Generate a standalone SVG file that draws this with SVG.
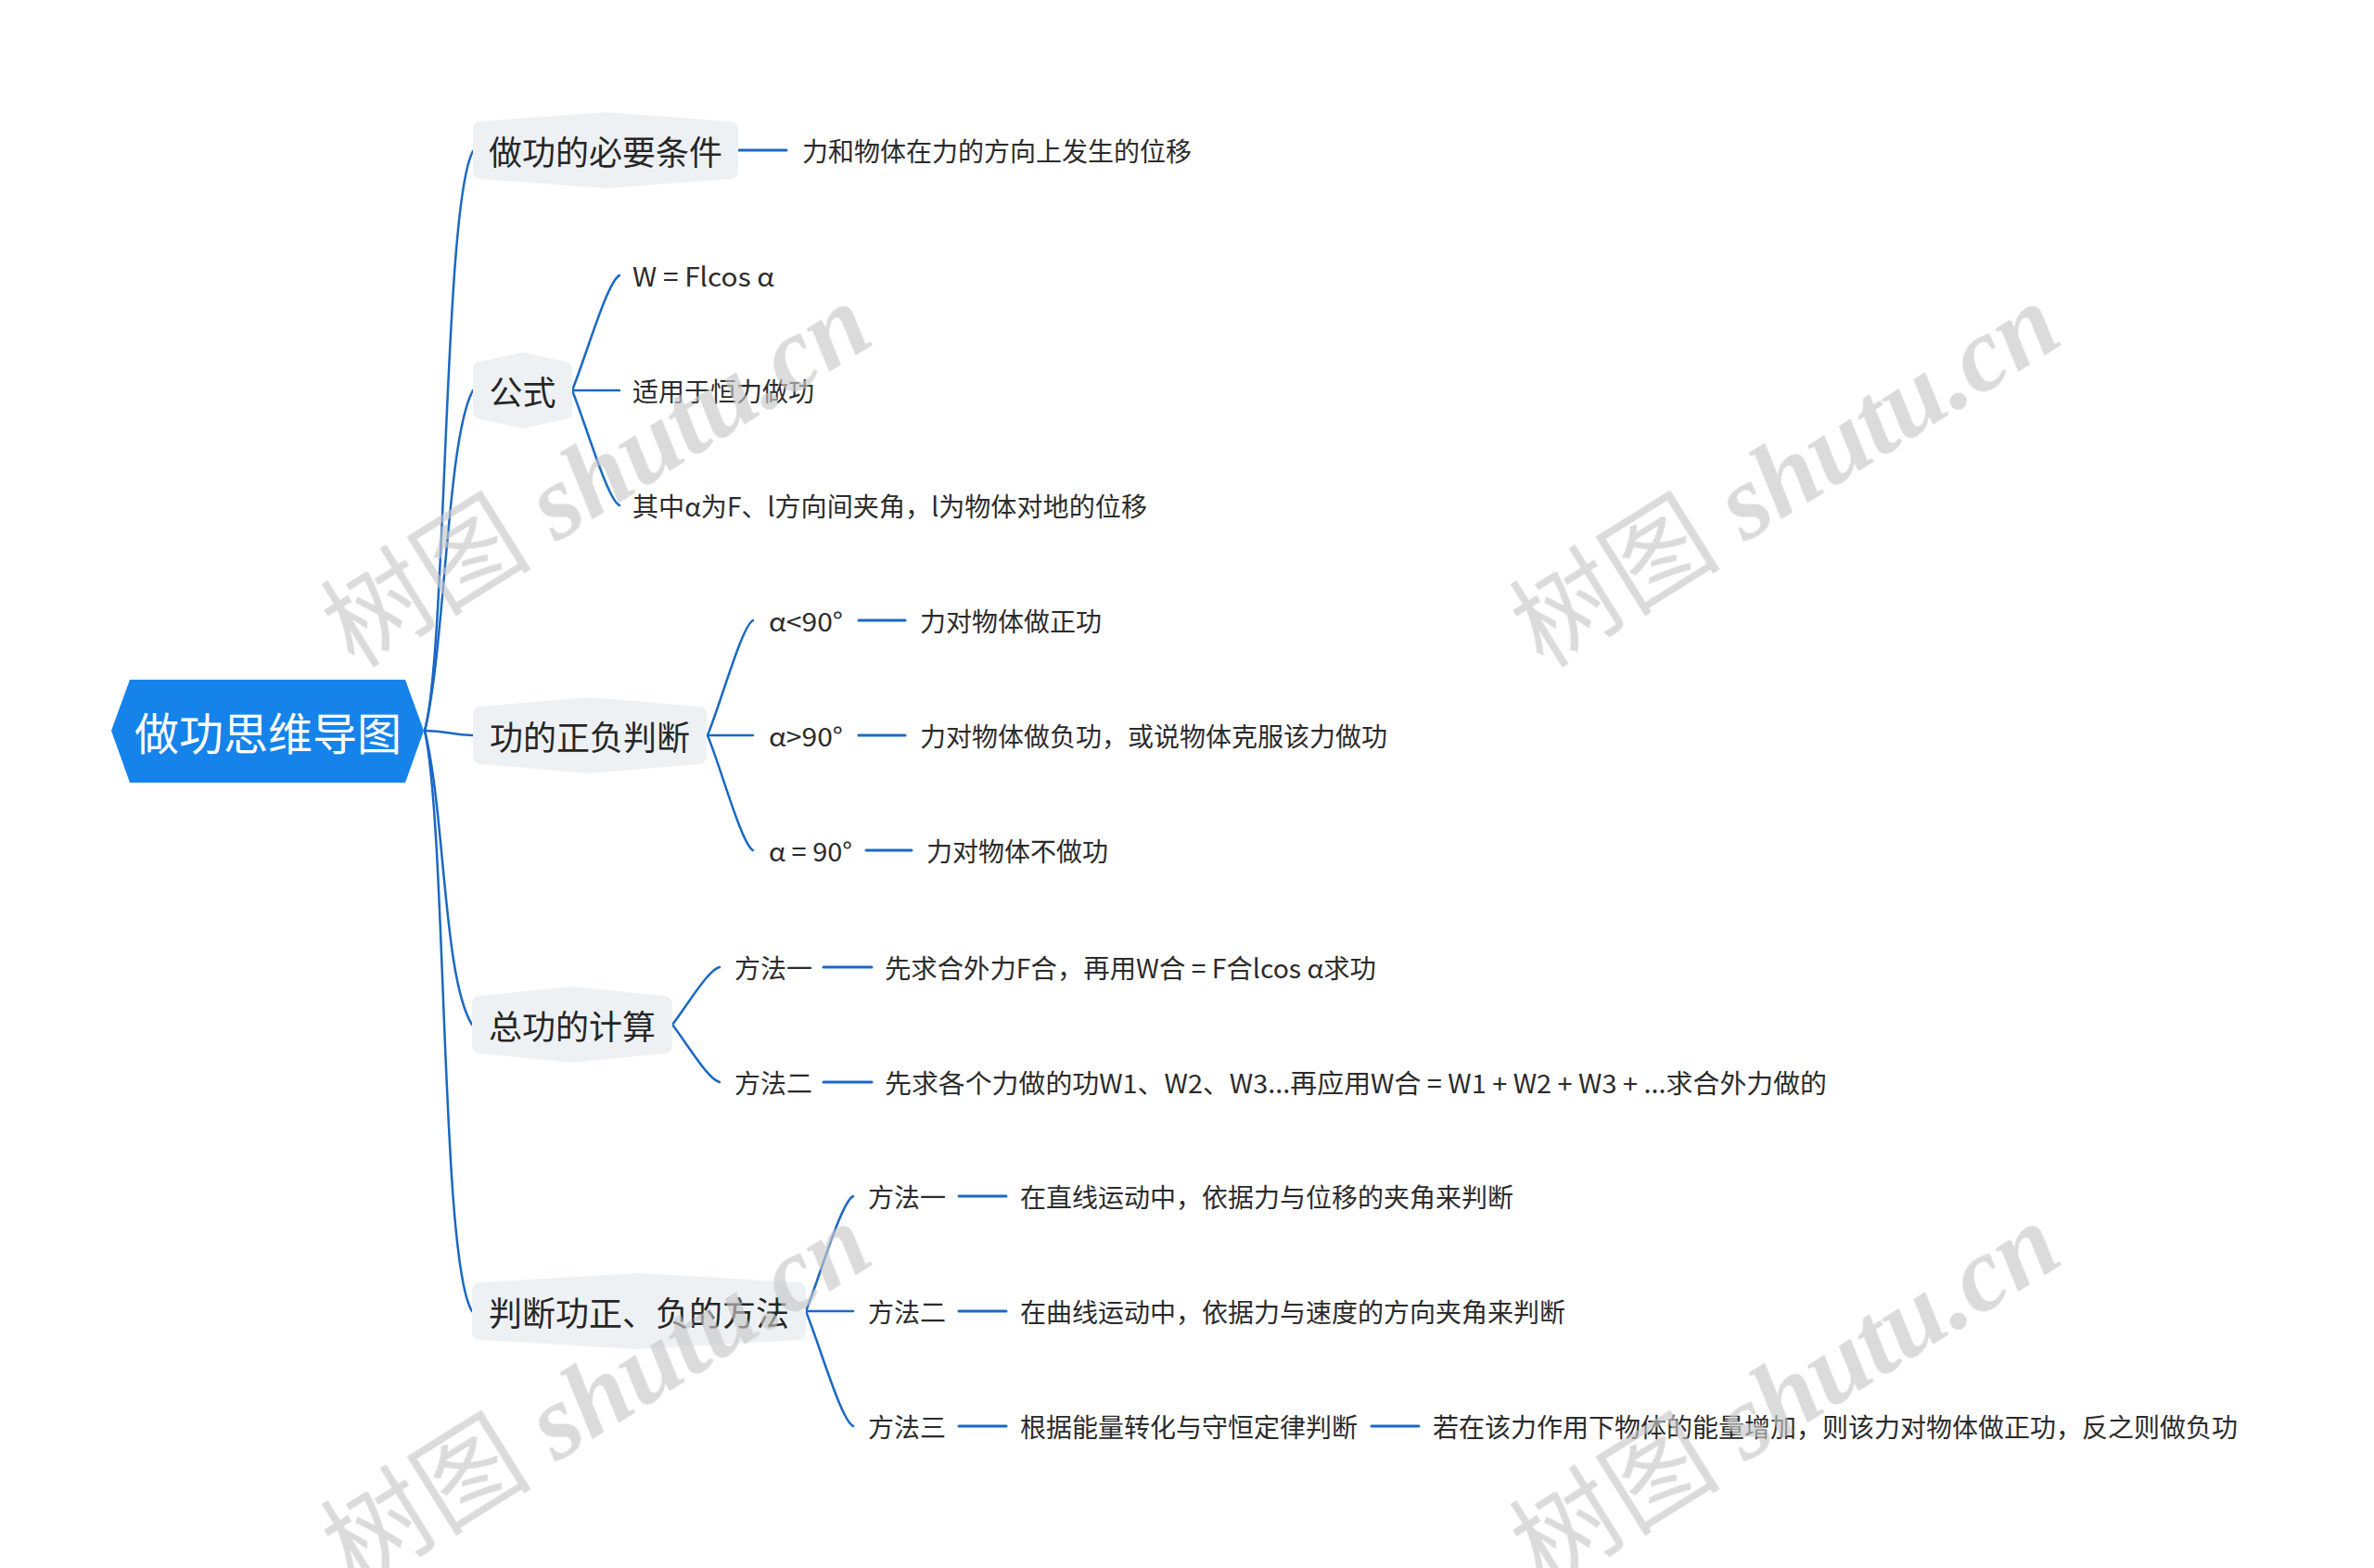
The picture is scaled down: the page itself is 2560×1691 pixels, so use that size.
<svg xmlns="http://www.w3.org/2000/svg" width="2560" height="1691" viewBox="0 0 2560 1691">
<style>
.bg{fill:#ffffff}
.l1 polygon{fill:#eef1f4;stroke:#eef1f4;stroke-width:16;stroke-linejoin:round}
.l1 text{font-family:"Noto Sans CJK SC","Noto Sans",sans-serif;font-size:36px;fill:#262626;text-anchor:middle;dominant-baseline:central}
.t{font-family:"Noto Sans CJK SC","Noto Sans",sans-serif;font-size:28px;fill:#2b2b2b;dominant-baseline:central}
.conn path{fill:none;stroke:#1a68c4;stroke-width:2.5;stroke-linecap:round}
.conn .dash{stroke-width:3}
.wm{font-size:114px;fill:#c8c8c8;opacity:0.65;text-anchor:middle}
.wm .cj{font-family:"Noto Sans CJK SC",sans-serif}
.wm .la{font-family:"Liberation Serif",serif;font-style:italic;font-weight:bold}
</style>
<rect class="bg" x="0" y="0" width="2560" height="1691"/>

<g id="connectors" class="conn">
  <path d="M458 788 C482 700 478 220 510 163"/>
  <path d="M458 788 C480 700 482 470 510 421"/>
  <path d="M458 788 C485 788 485 793 510 793"/>
  <path d="M458 788 C480 876 478 1056 509 1105"/>
  <path d="M458 788 C482 900 475 1360 509 1414"/>

  <path class="dash" d="M797 162 L848 162"/>

  <path d="M617 421 C632 384 655 303 668 297"/>
  <path d="M617 421 L668 421"/>
  <path d="M617 421 C632 458 655 539 668 545"/>

  <path d="M763 793 C778 756 800 675 812 669"/>
  <path d="M763 793 L812 793"/>
  <path d="M763 793 C778 830 800 911 812 917"/>
  <path class="dash" d="M926 669 L976 669"/>
  <path class="dash" d="M926 793 L976 793"/>
  <path class="dash" d="M934 917 L983 917"/>

  <path d="M725 1105 C740 1086 763 1046 776 1043"/>
  <path d="M725 1105 C740 1124 763 1164 776 1167"/>
  <path class="dash" d="M888 1043 L940 1043"/>
  <path class="dash" d="M888 1167 L940 1167"/>

  <path d="M869 1414 C884 1377 907 1296 920 1290"/>
  <path d="M869 1414 L920 1414"/>
  <path d="M869 1414 C884 1451 907 1532 920 1538"/>
  <path class="dash" d="M1034 1290 L1085 1290"/>
  <path class="dash" d="M1034 1414 L1085 1414"/>
  <path class="dash" d="M1034 1538 L1085 1538"/>
  <path class="dash" d="M1479 1538 L1530 1538"/>
</g>

<g id="root">
  <polygon points="120,788 140,733 437,733 457,788 437,844 140,844" fill="#1583ea"/>
  <text x="289" y="788" font-family="'Noto Sans CJK SC','Noto Sans',sans-serif" font-size="48" fill="#ffffff" text-anchor="middle" dominant-baseline="central">做功思维导图</text>
</g>

<g id="n1" class="l1">
  <polygon points="518,139 653,129 788,139 788,185 653,195 518,185"/>
  <text x="653" y="162">做功的必要条件</text>
</g>
<g id="n1a"><text class="t" x="865" y="162">力和物体在力的方向上发生的位移</text></g>

<g id="n2" class="l1">
  <polygon points="518,398 563.5,388 609,398 609,444 563.5,454 518,444"/>
  <text x="563.5" y="421">公式</text>
</g>
<g id="n2a"><text class="t" x="682" y="297" textLength="153" lengthAdjust="spacingAndGlyphs">W = Flcos α</text></g>
<g id="n2b"><text class="t" x="682" y="421">适用于恒力做功</text></g>
<g id="n2c"><text class="t" x="682" y="545" textLength="555" lengthAdjust="spacingAndGlyphs">其中α为F、l方向间夹角，l为物体对地的位移</text></g>

<g id="n3" class="l1">
  <polygon points="518,770 636,760 754,770 754,816 636,826 518,816"/>
  <text x="636" y="793">功的正负判断</text>
</g>
<g id="n3a"><text class="t" x="829" y="669" textLength="80" lengthAdjust="spacingAndGlyphs">α&lt;90°</text></g>
<g id="n3a1"><text class="t" x="992" y="669">力对物体做正功</text></g>
<g id="n3b"><text class="t" x="829" y="793" textLength="80" lengthAdjust="spacingAndGlyphs">α&gt;90°</text></g>
<g id="n3b1"><text class="t" x="992" y="793">力对物体做负功，或说物体克服该力做功</text></g>
<g id="n3c"><text class="t" x="829" y="917" textLength="90" lengthAdjust="spacingAndGlyphs">α = 90°</text></g>
<g id="n3c1"><text class="t" x="999" y="917">力对物体不做功</text></g>

<g id="n4" class="l1">
  <polygon points="517,1082 617,1072 717,1082 717,1128 617,1138 517,1128"/>
  <text x="617" y="1105">总功的计算</text>
</g>
<g id="n4a"><text class="t" x="792" y="1043">方法一</text></g>
<g id="n4a1"><text class="t" x="954" y="1043" textLength="530" lengthAdjust="spacingAndGlyphs">先求合外力F合，再用W合 = F合lcos α求功</text></g>
<g id="n4b"><text class="t" x="792" y="1167">方法二</text></g>
<g id="n4b1"><text class="t" x="954" y="1167" textLength="1016" lengthAdjust="spacingAndGlyphs">先求各个力做的功W1、W2、W3...再应用W合 = W1 + W2 + W3 + ...求合外力做的</text></g>

<g id="n5" class="l1">
  <polygon points="517,1391 689,1381 861,1391 861,1437 689,1447 517,1437"/>
  <text x="689" y="1414">判断功正、负的方法</text>
</g>
<g id="n5a"><text class="t" x="936" y="1290">方法一</text></g>
<g id="n5a1"><text class="t" x="1100" y="1290">在直线运动中，依据力与位移的夹角来判断</text></g>
<g id="n5b"><text class="t" x="936" y="1414">方法二</text></g>
<g id="n5b1"><text class="t" x="1100" y="1414">在曲线运动中，依据力与速度的方向夹角来判断</text></g>
<g id="n5c"><text class="t" x="936" y="1538">方法三</text></g>
<g id="n5c1"><text class="t" x="1100" y="1538">根据能量转化与守恒定律判断</text></g>
<g id="n5c2"><text class="t" x="1545" y="1538">若在该力作用下物体的能量增加，则该力对物体做正功，反之则做负功</text></g>

<g id="watermarks" class="wm">
  <text x="664" y="545" transform="rotate(-32 664 545)"><tspan class="cj">树图</tspan><tspan class="la"> shutu.cn</tspan></text>
  <text x="1946" y="545" transform="rotate(-32 1946 545)"><tspan class="cj">树图</tspan><tspan class="la"> shutu.cn</tspan></text>
  <text x="664" y="1537" transform="rotate(-32 664 1537)"><tspan class="cj">树图</tspan><tspan class="la"> shutu.cn</tspan></text>
  <text x="1946" y="1537" transform="rotate(-32 1946 1537)"><tspan class="cj">树图</tspan><tspan class="la"> shutu.cn</tspan></text>
</g>
</svg>
